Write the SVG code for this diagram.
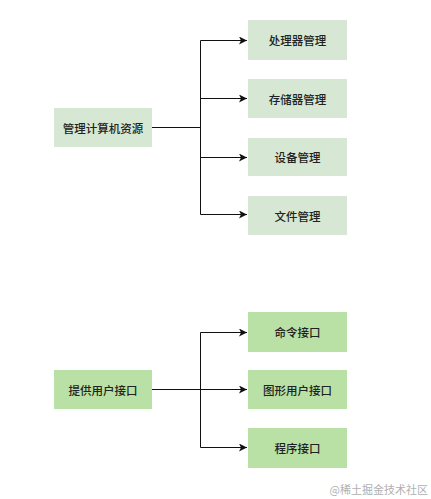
<svg xmlns="http://www.w3.org/2000/svg" width="431" height="499" viewBox="0 0 431 499">
<defs>
<style>
.a{fill:#d6e8d3}
.b{fill:#b9e0a5}
text{font-family:"Noto Sans CJK SC","Noto Sans",sans-serif;font-size:11.5px;fill:#222;text-anchor:middle;dominant-baseline:central;font-weight:500}
.c{fill:none;stroke:#111;stroke-width:1}
.wm{font-size:11px;fill:#b0b0b0;text-anchor:end;font-weight:400;font-family:"Noto Sans CJK SC",serif}
</style>
<marker id="ar" viewBox="0 0 10 10" refX="10" refY="5" markerWidth="8" markerHeight="8" markerUnits="userSpaceOnUse" orient="auto"><path d="M0,0 L10,5 L0,10 L2.5,5 z" fill="#111"/></marker>
</defs>
<rect width="431" height="499" fill="#fff"/>
<g id="connectors">
<path class="c" d="M152,127.5 H200.5"/>
<path class="c" d="M200.5,40.5 V214.5"/>
<path class="c" d="M200.5,40.5 H247" marker-end="url(#ar)"/>
<path class="c" d="M200.5,98.5 H247" marker-end="url(#ar)"/>
<path class="c" d="M200.5,157.5 H247" marker-end="url(#ar)"/>
<path class="c" d="M200.5,214.5 H247" marker-end="url(#ar)"/>
<path class="c" d="M152,389.5 H247" marker-end="url(#ar)"/>
<path class="c" d="M200.5,332.5 V447.5"/>
<path class="c" d="M200.5,332.5 H247" marker-end="url(#ar)"/>
<path class="c" d="M200.5,447.5 H247" marker-end="url(#ar)"/>
</g>
<g id="n-manage"><rect class="a" x="54" y="108" width="98" height="39"/><text x="103" y="127.5">管理计算机资源</text></g>
<g id="n-cpu"><rect class="a" x="248" y="20" width="99" height="40"/><text x="297.5" y="40">处理器管理</text></g>
<g id="n-mem"><rect class="a" x="248" y="79" width="99" height="39"/><text x="297.5" y="98.5">存储器管理</text></g>
<g id="n-dev"><rect class="a" x="248" y="138" width="99" height="38"/><text x="297.5" y="157">设备管理</text></g>
<g id="n-file"><rect class="a" x="248" y="196" width="99" height="39"/><text x="297.5" y="215.5">文件管理</text></g>
<g id="n-ui"><rect class="b" x="54" y="370" width="98" height="39"/><text x="103" y="389.5">提供用户接口</text></g>
<g id="n-cmd"><rect class="b" x="248" y="312" width="99" height="40"/><text x="297.5" y="332">命令接口</text></g>
<g id="n-gui"><rect class="b" x="248" y="370" width="99" height="39"/><text x="297.5" y="389.5">图形用户接口</text></g>
<g id="n-prog"><rect class="b" x="248" y="428" width="99" height="40"/><text x="297.5" y="448">程序接口</text></g>
<text class="wm" x="428" y="489">@稀土掘金技术社区</text>
</svg>
